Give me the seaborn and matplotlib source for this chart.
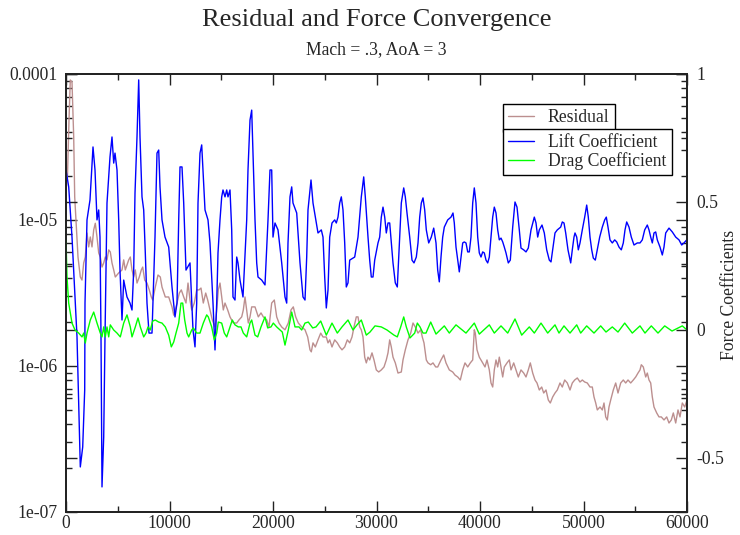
import matplotlib
matplotlib.use("Agg")
import matplotlib.pyplot as plt
import pandas as pd
import seaborn as sns
from matplotlib.ticker import MultipleLocator, LogLocator, NullFormatter
from matplotlib.lines import Line2D

# ---------------- data ----------------
title = "Residual and Force Convergence"
subtitle = "Mach = .3, AoA = 3"
right_axis_label = "Force Coefficients"
series_names = ["Residual", "Lift Coefficient", "Drag Coefficient"]
x_ticks = [0, 10000, 20000, 30000, 40000, 50000, 60000]
left_ticks = [1e-7, 1e-6, 1e-5, 1e-4]
left_tick_labels = ["1e-07", "1e-06", "1e-05", "0.0001"]
right_ticks = [-0.5, 0, 0.5, 1]
right_tick_labels = ["-0.5", "0", "0.5", "1"]

residual = [
    (0, 1.60e-5), (145, 2.03e-5), (290, 4.84e-5), (415, 9.1e-5), (580, 8.8e-5), (744, 3.7e-5),
    (841, 1.44e-5), (966, 1.0e-5), (1159, 5.58e-6), (1382, 4.07e-6), (1546, 3.88e-6), (1710, 5.08e-6),
    (1865, 5.58e-6), (2029, 8.14e-6), (2193, 6.54e-6), (2348, 7.65e-6), (2512, 6.54e-6), (2676, 8.55e-6),
    (2831, 9.5e-6), (2995, 7.65e-6), (3159, 5.95e-6), (3314, 5.58e-6), (3478, 4.76e-6), (3643, 5.08e-6),
    (3797, 5.58e-6), (3961, 5.33e-6), (4126, 6.24e-6), (4280, 6.04e-6), (4444, 5.08e-6), (4609, 4.55e-6),
    (4763, 4.07e-6), (5092, 4.34e-6), (5411, 4.55e-6), (5575, 5.33e-6), (5729, 4.55e-6), (6058, 5.33e-6),
    (6213, 5.58e-6), (6377, 4.55e-6), (6541, 4.07e-6), (6696, 4.55e-6), (6860, 3.70e-6), (7082, 4.07e-6),
    (7275, 4.55e-6), (7411, 4.76e-6), (7604, 3.88e-6), (7826, 3.70e-6), (8048, 3.32e-6), (8242, 2.97e-6),
    (8377, 2.83e-6), (8628, 3.47e-6), (8889, 4.20e-6), (9111, 4.07e-6), (9276, 3.47e-6), (9594, 2.97e-6),
    (9923, 2.97e-6), (10242, 2.54e-6), (10406, 2.23e-6), (10560, 2.42e-6), (10725, 2.70e-6), (10947, 3.16e-6),
    (11140, 3.32e-6), (11372, 2.97e-6), (11594, 2.70e-6), (11788, 3.70e-6), (11981, 2.83e-6), (12145, 2.42e-6),
    (12396, 2.70e-6), (12628, 3.32e-6), (12850, 3.32e-6), (13043, 3.42e-6), (13266, 2.70e-6), (13498, 3.16e-6),
    (13691, 2.83e-6), (13913, 2.42e-6), (14135, 2.07e-6), (14396, 1.85e-6), (14561, 2.42e-6), (14715, 3.32e-6),
    (14879, 3.70e-6), (15043, 2.97e-6), (15198, 2.42e-6), (15362, 2.70e-6), (15623, 2.42e-6), (15845, 2.17e-6),
    (16165, 1.97e-6), (16493, 1.97e-6), (16715, 2.07e-6), (16976, 2.17e-6), (17131, 2.42e-6), (17295, 2.97e-6),
    (17459, 2.42e-6), (17614, 1.97e-6), (17778, 2.17e-6), (17942, 2.54e-6), (18261, 2.54e-6), (18580, 2.17e-6),
    (18841, 2.31e-6), (19063, 2.17e-6), (19391, 2.07e-6), (19614, 1.85e-6), (19874, 2.70e-6), (20126, 2.83e-6),
    (20357, 2.17e-6), (20580, 1.97e-6), (20841, 1.85e-6), (21159, 1.77e-6), (21478, 1.97e-6), (21739, 2.42e-6),
    (21961, 2.54e-6), (22193, 2.17e-6), (22445, 1.97e-6), (22773, 1.85e-6), (23092, 1.77e-6), (23353, 1.58e-6),
    (23575, 1.29e-6), (23700, 1.25e-6), (23865, 1.44e-6), (24087, 1.35e-6), (24348, 1.51e-6), (24609, 1.68e-6),
    (24831, 1.58e-6), (25150, 1.58e-6), (25314, 1.44e-6), (25479, 1.51e-6), (25700, 1.35e-6), (25962, 1.51e-6),
    (26213, 1.44e-6), (26445, 1.35e-6), (26667, 1.29e-6), (26928, 1.35e-6), (27179, 1.51e-6), (27411, 1.44e-6),
    (27633, 1.58e-6), (27826, 1.85e-6), (28049, 2.17e-6), (28213, 2.17e-6), (28377, 1.85e-6), (28532, 1.77e-6),
    (28696, 1.58e-6), (28860, 1.15e-6), (29015, 1.05e-6), (29179, 1.15e-6), (29343, 1.10e-6), (29565, 1.23e-6),
    (29758, 1.10e-6), (29981, 9.4e-7), (30213, 9.1e-7), (30464, 9.4e-7), (30725, 9.85e-7), (30947, 1.10e-6),
    (31111, 1.23e-6), (31275, 1.51e-6), (31430, 1.35e-6), (31594, 1.15e-6), (31817, 1.05e-6), (32077, 8.95e-7),
    (32397, 9.1e-7), (32560, 1.10e-6), (32783, 1.29e-6), (33043, 1.51e-6), (33304, 1.68e-6), (33527, 1.97e-6),
    (33749, 1.85e-6), (34010, 1.68e-6), (34271, 1.77e-6), (34425, 1.58e-6), (34589, 1.44e-6), (34812, 1.10e-6),
    (34976, 1.05e-6), (35237, 1.02e-6), (35459, 1.05e-6), (35720, 9.85e-7), (35913, 9.85e-7), (36232, 1.10e-6),
    (36493, 1.19e-6), (36715, 1.05e-6), (37034, 9.4e-7), (37362, 9.1e-7), (37584, 8.67e-7), (37845, 8.41e-7),
    (38097, 8.02e-7), (38329, 9.4e-7), (38551, 1.05e-6), (38812, 9.85e-7), (39063, 1.05e-6), (39295, 1.10e-6),
    (39449, 1.77e-6), (39546, 1.68e-6), (39710, 1.29e-6), (39932, 1.15e-6), (40096, 1.10e-6), (40261, 1.05e-6),
    (40483, 9.85e-7), (40676, 1.10e-6), (40899, 9.4e-7), (41063, 7.65e-7), (41227, 7.18e-7), (41382, 9.4e-7),
    (41546, 1.10e-6), (41710, 9.85e-7), (41865, 1.15e-6), (42029, 9.85e-7), (42194, 8.41e-7), (42348, 9.85e-7),
    (42609, 1.05e-6), (42831, 1.10e-6), (42995, 9.4e-7), (43256, 1.05e-6), (43478, 9.4e-7), (43700, 8.41e-7),
    (43961, 9.4e-7), (44222, 8.95e-7), (44444, 8.41e-7), (44667, 9.4e-7), (44860, 1.05e-6), (45092, 8.95e-7),
    (45314, 8.02e-7), (45507, 7.65e-7), (45729, 6.85e-7), (45961, 7.18e-7), (46155, 6.53e-7), (46377, 6.85e-7),
    (46600, 5.85e-7), (46793, 5.58e-7), (47024, 6.14e-7), (47246, 6.53e-7), (47469, 6.85e-7), (47729, 7.65e-7),
    (47952, 7.18e-7), (48184, 8.02e-7), (48435, 7.65e-7), (48696, 6.85e-7), (48918, 7.65e-7), (49150, 8.02e-7),
    (49401, 8.28e-7), (49662, 7.77e-7), (49884, 8.02e-7), (50116, 7.77e-7), (50367, 7.65e-7), (50628, 7.18e-7),
    (50850, 7.18e-7), (51014, 6.14e-7), (51179, 5.58e-7), (51333, 5.0e-7), (51594, 5.24e-7), (51817, 5.0e-7),
    (51981, 5.58e-7), (52145, 4.48e-7), (52300, 4.27e-7), (52464, 5.24e-7), (52628, 5.85e-7), (52879, 6.85e-7),
    (53111, 7.65e-7), (53333, 6.53e-7), (53594, 7.65e-7), (53845, 8.02e-7), (54077, 7.65e-7), (54300, 8.02e-7),
    (54560, 7.65e-7), (54812, 8.02e-7), (55044, 8.41e-7), (55266, 8.95e-7), (55459, 9.4e-7), (55585, 1.02e-6),
    (55778, 9.85e-7), (56010, 8.41e-7), (56164, 8.95e-7), (56329, 8.02e-7), (56493, 7.65e-7), (56648, 6.14e-7),
    (56811, 5.24e-7), (57072, 4.77e-7), (57294, 4.48e-7), (57517, 4.48e-7), (57778, 4.27e-7), (58039, 4.48e-7),
    (58261, 4.07e-7), (58484, 4.27e-7), (58677, 4.77e-7), (58908, 4.07e-7), (59130, 5.0e-7), (59324, 4.48e-7),
    (59546, 5.58e-7), (59778, 5.24e-7), (60000, 5.85e-7),
]

lift = [
    (0, .625), (261, .559), (580, .363), (1063, -.027), (1382, -.535), (1614, -.457), (1807, -.234),
    (1836, .105), (2029, .430), (2319, .508), (2609, .715), (2802, .625), (2995, .430), (3159, .469),
    (3285, .363), (3382, -.027), (3478, -.613), (3643, -.418), (3768, -.027), (3961, .496), (4251, .676),
    (4444, .754), (4609, .652), (4734, .691), (4928, .625), (5092, .430), (5217, .234), (5411, .039),
    (5575, .195), (5894, .129), (6184, .105), (6377, .078), (6541, .234), (6667, .535), (6860, .754),
    (7024, .977), (7150, .754), (7343, .520), (7507, .469), (7662, .301), (7826, .105), (8019, -.012),
    (8309, -.012), (8599, .363), (8792, .691), (8957, .703), (9082, .559), (9276, .430), (9440, .391),
    (9565, .363), (9923, .324), (10242, .168), (10531, .051), (10725, .105), (10889, .430), (11015, .637),
    (11208, .637), (11372, .496), (11594, .234), (11981, .262), (12271, 0.0), (12464, -.066), (12628, .105),
    (12754, .496), (12947, .691), (13111, .723), (13237, .625), (13430, .469), (13720, .430), (13913, .340),
    (14203, .105), (14396, -.078), (14561, .105), (14686, .301), (14879, .430), (15043, .520), (15169, .547),
    (15362, .520), (15527, .547), (15652, .520), (15845, .547), (16010, .391), (16135, .129), (16328, .117),
    (16493, .285), (16618, .262), (16812, .195), (17101, .129), (17459, .430), (17584, .625), (17778, .820),
    (17942, .859), (18068, .691), (18261, .430), (18425, .262), (18551, .207), (18908, .195), (19227, .176),
    (19517, .430), (19710, .625), (19874, .625), (20000, .363), (20193, .418), (20483, .391), (20841, .262),
    (21159, .129), (21324, .105), (21449, .340), (21642, .520), (21807, .559), (21932, .496), (22290, .457),
    (22609, .262), (22898, .129), (23092, .117), (23256, .285), (23382, .469), (23672, .586), (23865, .496),
    (24029, .457), (24348, .379), (24667, .391), (24831, .363), (24995, .207), (25150, .086), (25314, .156),
    (25479, .363), (25700, .418), (25962, .430), (26116, .418), (26280, .441), (26445, .496), (26600, .520),
    (26763, .469), (26928, .340), (27082, .168), (27246, .184), (27411, .273), (27894, .285), (28213, .363),
    (28532, .520), (28764, .598), (28918, .520), (29179, .363), (29343, .273), (29498, .207), (29662, .207),
    (29826, .273), (30145, .340), (30309, .363), (30464, .441), (30628, .480), (30793, .441), (30947, .379),
    (31111, .418), (31275, .418), (31430, .340), (31594, .262), (31817, .184), (32010, .168), (32145, .285),
    (32397, .496), (32629, .555), (32783, .520), (32947, .457), (33208, .363), (33430, .273), (33623, .262),
    (33846, .285), (34010, .340), (34174, .441), (34329, .496), (34493, .516), (34657, .469), (34812, .391),
    (35044, .340), (35295, .363), (35527, .398), (35749, .340), (35913, .234), (36068, .188), (36232, .285),
    (36396, .363), (36551, .402), (36880, .430), (37198, .441), (37391, .457), (37517, .418), (37681, .324),
    (38000, .227), (38164, .285), (38329, .340), (38483, .344), (38647, .340), (38812, .305), (38966, .305),
    (39130, .363), (39295, .496), (39449, .555), (39613, .496), (39778, .363), (39932, .301), (40096, .285),
    (40261, .305), (40415, .301), (40580, .273), (40744, .262), (40899, .285), (41063, .363), (41227, .441),
    (41382, .480), (41546, .457), (41710, .391), (41865, .352), (42029, .359), (42194, .344), (42348, .324),
    (42512, .301), (42735, .262), (42928, .273), (43160, .402), (43381, .500), (43575, .480), (43797, .391),
    (43961, .320), (44222, .313), (44444, .305), (44667, .320), (44928, .391), (45247, .441), (45411, .418),
    (45575, .363), (45729, .391), (45990, .410), (46213, .379), (46445, .313), (46696, .273), (46860, .266),
    (47024, .313), (47246, .379), (47469, .391), (47797, .402), (47952, .422), (48116, .418), (48280, .379),
    (48502, .313), (48763, .262), (48918, .313), (49082, .363), (49179, .379), (49343, .363), (49498, .313),
    (49662, .340), (49884, .391), (50116, .441), (50309, .488), (50464, .441), (50628, .363), (50793, .313),
    (50947, .281), (51140, .273), (51333, .313), (51565, .363), (51817, .402), (52048, .430), (52203, .441),
    (52367, .402), (52560, .352), (52783, .340), (53014, .352), (53208, .344), (53430, .324), (53652, .313),
    (53845, .340), (54010, .391), (54174, .422), (54396, .402), (54618, .363), (54879, .332), (55198, .340),
    (55459, .340), (55681, .352), (55913, .391), (56164, .410), (56329, .391), (56493, .363), (56648, .340),
    (56811, .379), (56976, .383), (57130, .352), (57391, .324), (57614, .293), (57778, .324), (57942, .379),
    (58261, .398), (58580, .383), (58908, .363), (59227, .352), (59488, .332), (59710, .340), (59971, .352),
]

drag = [
    (0, .352), (97, .207), (261, .105), (580, .027), (870, 0.0), (1227, -.012), (1546, -.027), (1710, -.012),
    (1865, -.051), (2029, -.012), (2348, .039), (2676, .070), (2995, .027), (3314, -.012), (3478, -.027),
    (3643, .012), (3797, -.027), (3961, .012), (4126, -.027), (4280, .020), (4609, 0.0), (4928, -.012),
    (5246, -.027), (5575, .027), (5894, .059), (6213, .012), (6377, -.027), (6696, .012), (6957, .047),
    (7179, .012), (7507, -.027), (7730, -.012), (7923, .012), (8145, 0.0), (8377, .035), (8628, .039),
    (8957, .031), (9276, .027), (9594, .012), (9923, -.020), (10174, -.066), (10406, -.047), (10628, -.012),
    (10889, .027), (11111, .105), (11275, .105), (11469, .039), (11691, -.012), (11855, -.027), (12145, 0.0),
    (12300, .008), (12628, -.012), (12947, -.012), (13266, .027), (13595, .059), (13749, .051), (14077, .012),
    (14329, -.039), (14561, -.012), (14715, .031), (15043, .027), (15295, -.012), (15527, -.027), (15845, .012),
    (16068, .039), (16328, .020), (16647, .012), (16908, .012), (17131, -.012), (17459, -.027), (17778, .027),
    (17942, .039), (18261, -.020), (18522, -.027), (18841, .012), (19227, .051), (19488, .008), (19807, .012),
    (20029, .027), (20357, .012), (20676, 0.0), (20899, -.008), (21159, -.059), (21478, 0.0), (21807, .070),
    (22126, .012), (22512, .012), (22773, 0.0), (23092, .027), (23411, .031), (23836, .008), (24155, .012),
    (24609, .035), (25150, -.020), (25700, .027), (26213, -.012), (26667, .012), (27246, .039), (27729, 0.0),
    (28116, .020), (28532, .039), (29015, -.020), (29372, -.008), (29855, .016), (30464, .012), (31014, 0.0),
    (31691, -.020), (32010, -.027), (32338, .012), (32629, .051), (32879, .012), (33237, -.031), (33691, -.012),
    (33943, .027), (34203, .012), (34493, -.012), (34783, -.012), (35237, .031), (35749, -.016), (36551, .016),
    (37034, -.012), (37681, .020), (38647, -.012), (39449, .027), (39932, -.016), (40899, .020), (41382, -.012),
    (42029, .016), (42677, -.012), (43381, .043), (44029, -.020), (44764, .012), (45247, -.012), (45894, .027),
    (46541, -.012), (47246, .020), (47633, -.012), (48116, .016), (48696, -.012), (49343, .020), (49729, -.012),
    (50309, .016), (51014, -.012), (51662, .016), (52174, -.008), (52783, .012), (53333, -.008), (53981, .027),
    (54715, -.012), (55459, .016), (55942, -.012), (56551, .016), (57198, -.012), (57846, .016), (58551, -.004),
    (59546, .016), (60000, 0.0),
]

colors = {"Residual": "#bc8f8f", "Lift Coefficient": "#0000ff", "Drag Coefficient": "#00ff00"}

res_df = pd.DataFrame(residual, columns=["iter", "value"])
lift_df = pd.DataFrame(lift, columns=["iter", "value"])
drag_df = pd.DataFrame(drag, columns=["iter", "value"])

# ---------------- figure ----------------
sns.set_style("ticks")
plt.rcParams["font.family"] = ["Liberation Serif", "DejaVu Serif"]
plt.rcParams["axes.unicode_minus"] = False
FS = 12.7

W, H = 740, 535
fig = plt.figure(figsize=(W / 100, H / 100), dpi=100)
fig.patch.set_facecolor("white")
ax1 = fig.add_axes([66 / W, (H - 512) / H, 621 / W, 438 / H])
ax1.set_yscale("log")
ax2 = ax1.twinx()

sns.lineplot(data=res_df, x="iter", y="value", ax=ax1, color=colors["Residual"], lw=1.0,
             estimator=None, sort=False, legend=False)
sns.lineplot(data=lift_df, x="iter", y="value", ax=ax2, color=colors["Lift Coefficient"], lw=1.0,
             estimator=None, sort=False, legend=False)
sns.lineplot(data=drag_df, x="iter", y="value", ax=ax2, color=colors["Drag Coefficient"], lw=1.0,
             estimator=None, sort=False, legend=False)

# x axis
ax1.set_xlim(0, 60000)
ax1.set_xticks(x_ticks)
ax1.set_xticklabels([str(t) for t in x_ticks])
ax1.xaxis.set_minor_locator(MultipleLocator(5000))
ax1.set_xlabel("")

# left log axis
ax1.set_ylim(1e-7, 1e-4)
ax1.set_yticks(left_ticks)
ax1.set_yticklabels(left_tick_labels)
ax1.yaxis.set_minor_locator(LogLocator(base=10, subs=[2, 3, 4, 5, 6, 7, 8, 9]))
ax1.yaxis.set_minor_formatter(NullFormatter())
ax1.set_ylabel("")

# right linear axis
ax2.set_ylim(-0.711, 1.0)
ax2.set_yticks(right_ticks)
ax2.set_yticklabels(right_tick_labels)
ax2.yaxis.set_minor_locator(MultipleLocator(0.25))
ax2.set_ylabel("")

ax1.tick_params(axis="both", which="both", direction="in", top=True, bottom=True, left=True,
                right=True, labelsize=FS, color="#222222", width=1.0)
ax1.tick_params(axis="both", which="major", length=8)
ax1.tick_params(axis="both", which="minor", length=4)
ax1.tick_params(axis="y", pad=6)
ax1.tick_params(axis="x", pad=2)
ax2.tick_params(axis="y", which="both", direction="in", left=True, right=True, labelleft=False,
                labelright=True, labelsize=FS, color="#222222", width=1.0, pad=7)
ax2.tick_params(axis="y", which="major", length=8)
ax2.tick_params(axis="y", which="minor", length=4)

for ax in (ax1, ax2):
    for sp in ax.spines.values():
        sp.set_linewidth(1.3)
        sp.set_color("#222222")

# titles and right-axis label
fig.text(376.5 / W, 1 - 20 / H, title, ha="center", va="center", fontsize=19)
fig.text(376.5 / W, 1 - 50 / H, subtitle, ha="center", va="center", fontsize=FS)
fig.text(730 / W, 1 - 295 / H, right_axis_label, ha="center", va="center", rotation=90, fontsize=FS)

# legends (two boxes)
leg_kw = dict(loc="upper left", bbox_transform=fig.transFigure, borderaxespad=0, frameon=True,
              fancybox=False, edgecolor="black", framealpha=1, fontsize=FS, handlelength=1.45,
              handletextpad=0.8, borderpad=0.3, labelspacing=0.05)
h1 = [Line2D([], [], color=colors["Residual"], lw=1.0)]
leg1 = ax1.legend(h1, [series_names[0]], bbox_to_anchor=(503 / W, 1 - 104 / H), **leg_kw)
leg1.get_frame().set_linewidth(1.0)
h2 = [Line2D([], [], color=colors[n], lw=1.0) for n in series_names[1:]]
leg2 = ax2.legend(h2, series_names[1:], bbox_to_anchor=(503 / W, 1 - 129 / H), **leg_kw)
leg2.get_frame().set_linewidth(1.0)

fig.savefig("out.png", dpi=100, facecolor="white")
